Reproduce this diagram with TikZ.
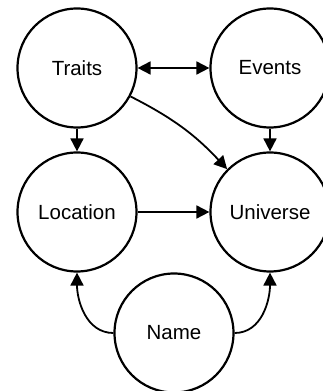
\documentclass[tikz,border=0pt]{standalone}
\usepackage{fontspec}
\setmainfont{Liberation Sans}
\usetikzlibrary{arrows.meta}

\tikzset{
    entity/.style={draw, circle, line width=2.2pt, minimum size=119pt, inner sep=0pt,
        font=\fontsize{20.5}{24}\selectfont},
    link/.style={line width=1.8pt, -{Triangle[length=13pt, width=13pt]}},
    twolink/.style={line width=1.8pt, {Triangle[length=13pt, width=13pt]}-{Triangle[length=13pt, width=13pt]}}
}

\begin{document}
\begin{tikzpicture}[x=1pt, y=1pt]
    \useasboundingbox (0,0) rectangle (323,391);
    \node[entity] (traits) at (77,323) {Traits};
    \node[entity] (events) at (270,323) {Events};
    \node[entity] (location) at (77,179) {Location};
    \node[entity] (universe) at (270,179) {Universe};
    \node[entity] (name) at (174,58) {Name};
    \draw[twolink] (traits) -- (events);
    \draw[link] (traits) -- (location);
    \draw[link] (events) -- (universe);
    \draw[link] (traits.-28) to[bend left=10] (universe.135);
    \draw[link] (location) -- (universe);
    \draw[link] (name.west) to[out=180, in=-90] (location.south);
    \draw[link] (name.east) to[out=0, in=-90] (universe.south);
\end{tikzpicture}
\end{document}
